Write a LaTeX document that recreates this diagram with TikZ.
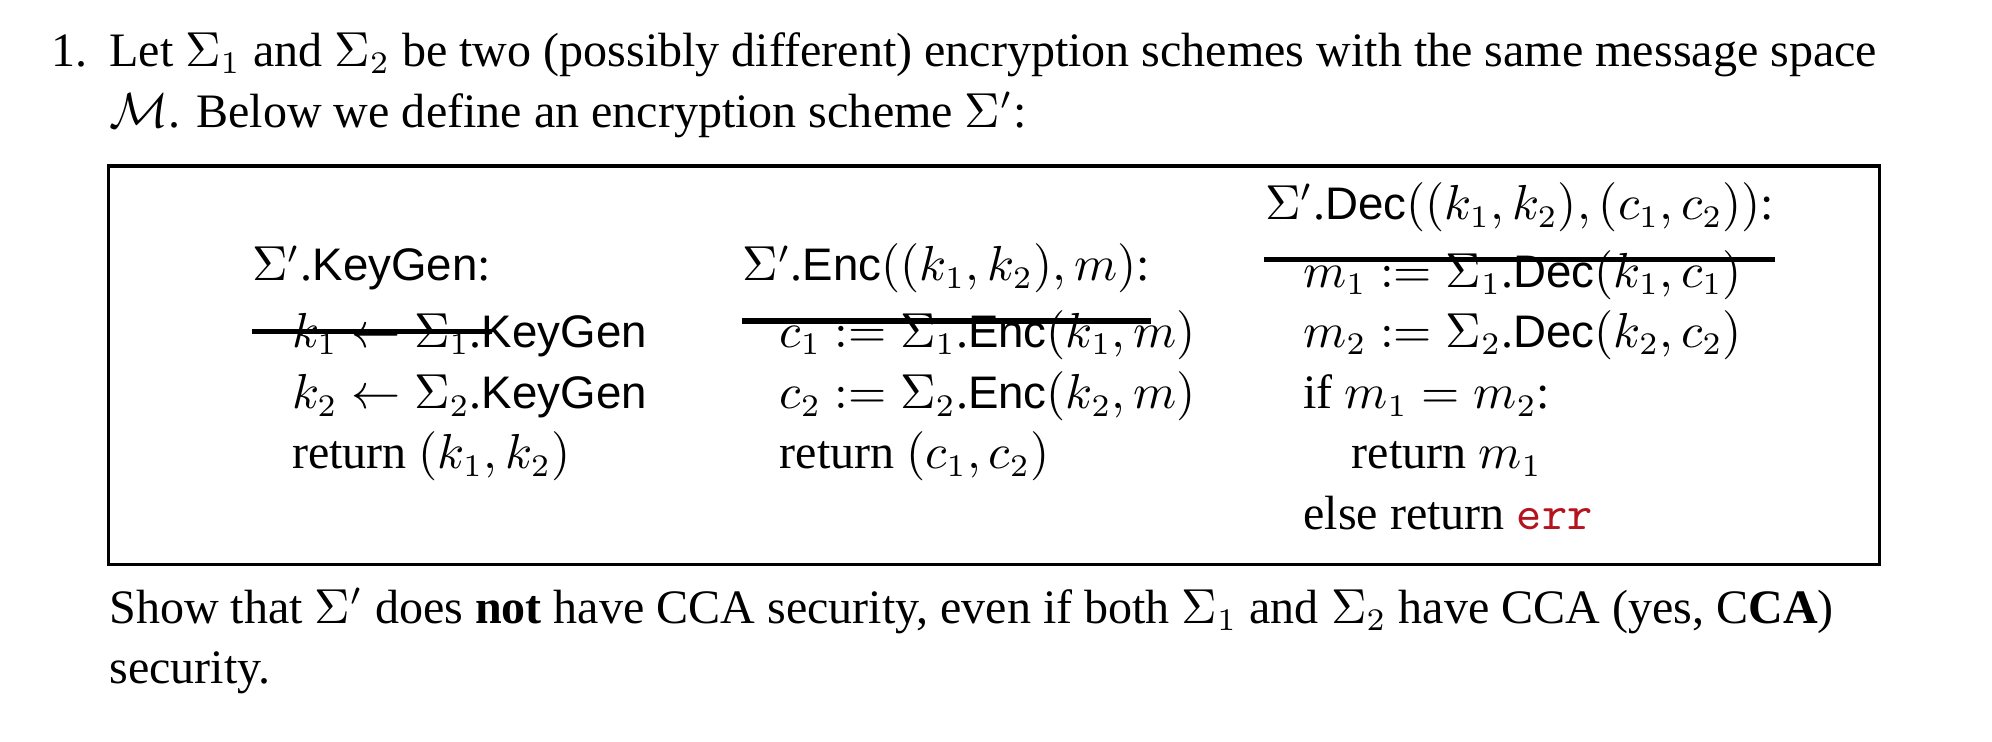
\documentclass[tikz,border=0pt]{standalone}
\usepackage{fontspec}
\setmainfont{Liberation Serif}
\setsansfont[Scale=0.95]{Liberation Sans}
\usepackage{amsmath}
\definecolor{errred}{RGB}{180,20,30}
\newcommand{\kg}{\textsf{KeyGen}}
\newcommand{\enc}{\textsf{Enc}}
\newcommand{\dec}{\textsf{Dec}}
\tikzset{
    txt/.style={anchor=base west,inner sep=0pt,font=\fontsize{10.7}{13}\selectfont},
    rule/.style={line width=1.2pt},
  }
\begin{document}
\begin{tikzpicture}[x=0.01cm,y=-0.01cm]
				  \useasboundingbox (0,0) rectangle (1560,581);
				  %intro
				  \node[txt] (num) at (40,52) {1.};
				  \node[txt] (l1) at (85,52) {Let $\Sigma_1$ and $\Sigma_2$ be two (possibly different) encryption schemes with the same message space};
				  \node[txt] (l2) at (85,100) {$\mathcal{M}$. Below we define an encryption scheme $\Sigma'$:};
				  
				  %box
				  \draw[line width=0.8pt] (85,130) rectangle (1472,442);
				  
				  %KeyGen
				  \node[txt] (kh) at (197,220) {$\Sigma'$.\kg:};
				  \draw[rule] ([yshift=-9]kh.south west) -- ([yshift=-9]kh.south east);
				  \node[txt] (k1) at (228,272) {$k_1 \leftarrow \Sigma_1$.\kg};
				  \node[txt] (k2) at (228,320) {$k_2 \leftarrow \Sigma_2$.\kg};
				  \node[txt] (k3) at (228,367) {return $(k_1,k_2)$};
				  
				  %Enc
				  \node[txt] (eh) at (581,220) {$\Sigma'$.\enc$((k_1,k_2),m)$:};
				  \draw[rule] ([yshift=-6]eh.south west) -- ([yshift=-6]eh.south east);
				  \node[txt] (e1) at (610,272) {$c_1 \mathrel{:=} \Sigma_1$.\enc$(k_1,m)$};
				  \node[txt] (e2) at (610,320) {$c_2 \mathrel{:=} \Sigma_2$.\enc$(k_2,m)$};
				  \node[txt] (e3) at (610,367) {return $(c_1,c_2)$};
				  
				  %Dec
				  \node[txt] (dh) at (990,172) {$\Sigma'$.\dec$((k_1,k_2),(c_1,c_2))$:};
				  \draw[rule] ([yshift=-6]dh.south west) -- ([yshift=-6]dh.south east);
				  \node[txt] (d1) at (1020,225) {$m_1 \mathrel{:=} \Sigma_1$.\dec$(k_1,c_1)$};
				  \node[txt] (d2) at (1020,272) {$m_2 \mathrel{:=} \Sigma_2$.\dec$(k_2,c_2)$};
				  \node[txt] (d3) at (1020,320) {if $m_1=m_2$:};
				  \node[txt] (d4) at (1058,367) {return $m_1$};
				  \node[txt] (d5) at (1020,415) {else return \textcolor{errred}{\texttt{err}}};
				  
				  %question
				  \node[txt] (q1) at (85,488) {Show that $\Sigma'$ does \textbf{not} have CCA security, even if both $\Sigma_1$ and $\Sigma_2$ have CCA (yes, C\textbf{CA})};
				  \node[txt] (q2) at (85,535) {security.};
\end{tikzpicture}
\end{document}
